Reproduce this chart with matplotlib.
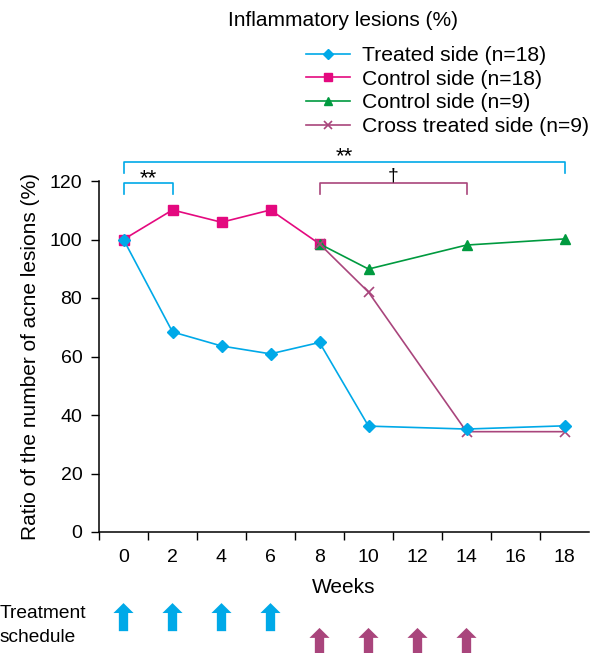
import matplotlib
matplotlib.use("Agg")
import matplotlib.pyplot as plt
from matplotlib.patches import Polygon
import numpy as np

plt.rcParams['font.family'] = ['Liberation Sans', 'DejaVu Sans']

weeks = [0, 2, 4, 6, 8, 10, 12, 14, 16, 18]
treated_weeks = [0, 2, 4, 6, 8, 10, 14, 18]
treated_vals = [100, 68.4, 63.6, 60.9, 64.8, 36.2, 35.2, 36.3]
control18_weeks = [0, 2, 4, 6, 8]
control18_vals = [100, 110.1, 105.9, 110.1, 98.5]
control9_weeks = [8, 10, 14, 18]
control9_vals = [98.5, 89.9, 98.1, 100.2]
cross_weeks = [8, 10, 14, 18]
cross_vals = [98.5, 82.0, 34.3, 34.3]
first_schedule = [0, 2, 4, 6]
second_schedule = [8, 10, 12, 14]

c_treated = '#00A9E8'
c_ctrl18 = '#E4097F'
c_ctrl9 = '#009A3F'
c_cross = '#A9457C'

fig = plt.figure(figsize=(6, 6.53), dpi=100)
ax = fig.add_axes([99/600, 1-532/653, 490/600, 351/653])

def xi(w):
    return np.array([weeks.index(v) for v in w])

ax.plot(xi(treated_weeks), treated_vals, color=c_treated, marker='D', ms=6.5, lw=1.2,
        label='Treated side (n=18)', zorder=5)
ax.plot(xi(control18_weeks), control18_vals, color=c_ctrl18, marker='s', ms=6.5, lw=1.2,
        label='Control side (n=18)', zorder=3)
ax.plot(xi(control9_weeks), control9_vals, color=c_ctrl9, marker='^', ms=7, lw=1.2,
        label='Control side (n=9)', zorder=4)
ax.plot(xi(cross_weeks), cross_vals, color=c_cross, marker='x', ms=7, mew=1.2, lw=1.2,
        label='Cross treated side (n=9)', zorder=4)

ax.set_xlim(-0.5, 9.5)
ax.set_ylim(0, 120)
ax.set_yticks(range(0, 121, 20))
ax.set_xticks(range(len(weeks)))
ax.set_xticklabels([str(w) for w in weeks])
ax.set_xticks(np.arange(-0.5, 9, 1), minor=True)
ax.tick_params(axis='x', which='major', length=0, labelsize=14, pad=12)
ax.tick_params(axis='x', which='minor', length=6, width=1)
ax.tick_params(axis='y', length=6, width=1, labelsize=14, pad=6)
for s in ['top', 'right']:
    ax.spines[s].set_visible(False)
for s in ['left', 'bottom']:
    ax.spines[s].set_linewidth(1.1)
ax.set_xlabel('Weeks', fontsize=15, labelpad=9)
ax.set_ylabel('Ratio of the number of acne lesions (%)', fontsize=15, labelpad=7)

def bracket(x0, x1, ytop, ybot, color, text, ty, fs):
    ax.plot([x0, x0, x1, x1], [ybot, ytop, ytop, ybot], color=color, lw=1.2, clip_on=False)
    ax.text((x0 + x1) / 2, ty, text, ha='center', va='bottom', fontsize=fs, clip_on=False)

bracket(xi([0])[0], xi([18])[0], 126.6, 122.7, c_treated, '**', 124.6, 16)
bracket(xi([0])[0], xi([2])[0], 119.3, 115.6, c_treated, '**', 117.3, 16)
bracket(xi([8])[0], xi([14])[0], 119.3, 115.6, c_cross, '†', 118.8, 14)

def arrow(x, ytop, color):
    hw, sw = 0.205, 0.095
    hh, total = 3.4, 9.6
    pts = [(x, ytop), (x + hw, ytop - hh), (x + sw, ytop - hh), (x + sw, ytop - total),
           (x - sw, ytop - total), (x - sw, ytop - hh), (x - hw, ytop - hh)]
    ax.add_patch(Polygon(pts, closed=True, color=color, clip_on=False, lw=0))

for w in first_schedule:
    arrow(xi([w])[0], -24.3, c_treated)
for w in second_schedule:
    arrow(xi([w])[0], -32.8, c_cross)

fig.text(0.0, 1-614/653, 'Treatment', fontsize=13.8, va='center', ha='left')
fig.text(0.0, 1-637/653, 'schedule', fontsize=13.8, va='center', ha='left')

fig.text(228/600, 1-20/653, 'Inflammatory lesions (%)', fontsize=15, va='center', ha='left')

leg = ax.legend(loc='upper left', bbox_to_anchor=(306/600, 1-46/653), bbox_transform=fig.transFigure,
                frameon=False, fontsize=15.2, markerscale=0.8,
                handlelength=2.1, handletextpad=0.55, labelspacing=0.22, borderaxespad=0, borderpad=0)

fig.savefig('out.png', dpi=100)
